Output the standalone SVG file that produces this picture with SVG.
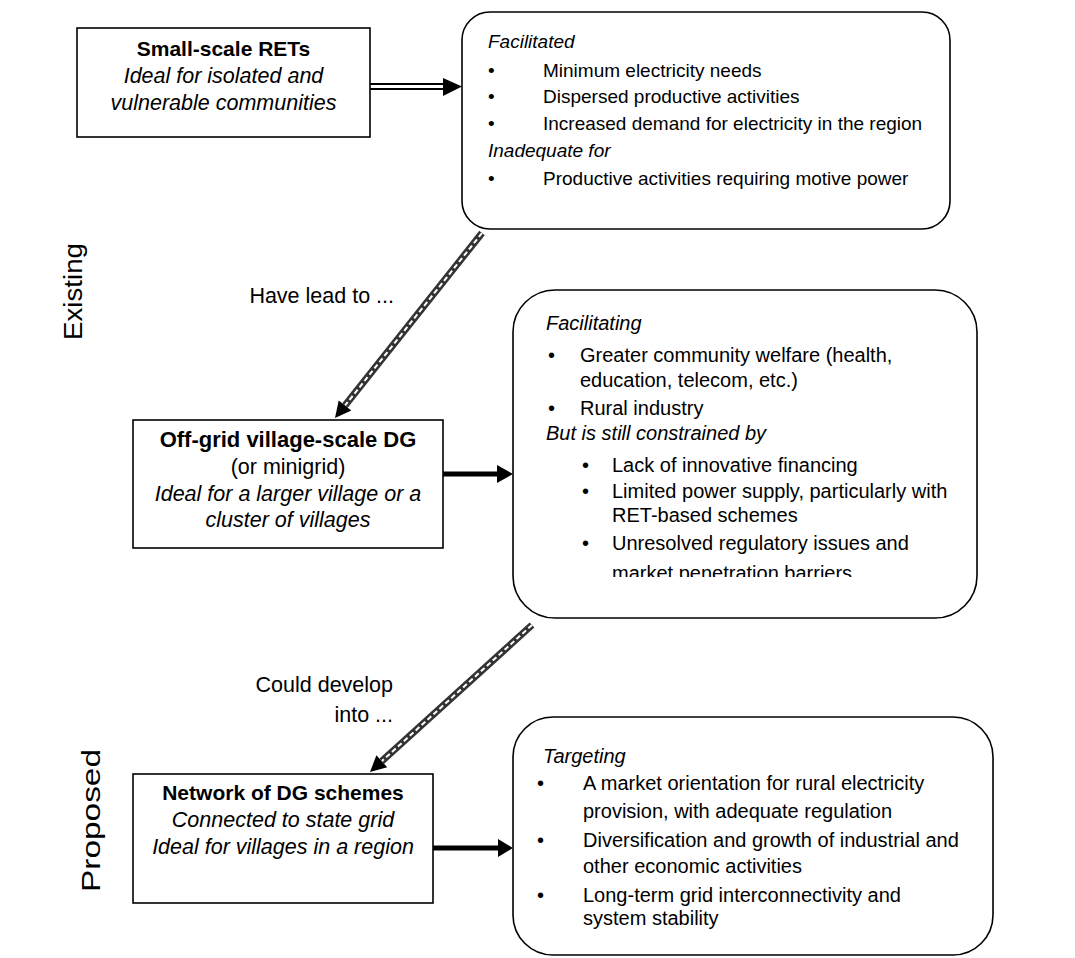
<svg xmlns="http://www.w3.org/2000/svg" width="1075" height="958" viewBox="0 0 1075 958">
<style>
text{font-family:"Liberation Sans",Arial,sans-serif;fill:#000}
.box{fill:#fff;stroke:#000;stroke-width:1.6}
.rbox{fill:#fff;stroke:#000;stroke-width:1.6}
.b{font-weight:bold;font-size:21px}
.l{font-size:21.5px}
.i{font-style:italic}
.r{font-size:19px}
.r2{font-size:20px}
.side{font-size:25px}
.braid{fill:none;stroke:#333;stroke-width:7}
.braidw{fill:none;stroke:#fff;stroke-width:2;stroke-dasharray:5 3}
.thick{stroke:#000;stroke-width:5}
.dbl{stroke:#000;stroke-width:2}
.head{fill:#000}
</style>

<g id="labels">
<text class="side" transform="translate(82,340) rotate(-90)" textLength="97" lengthAdjust="spacingAndGlyphs">Existing</text>
<text class="side" transform="translate(100,892) rotate(-90)" textLength="143" lengthAdjust="spacingAndGlyphs">Proposed</text>
<text class="l" x="394" y="303" text-anchor="end">Have lead to ...</text>
<text class="l" x="393" y="692" text-anchor="end">Could develop</text>
<text class="l" x="393" y="722" text-anchor="end">into ...</text>
</g>

<g id="connectors">
<line class="dbl" x1="370" y1="84" x2="446" y2="84"/>
<line class="dbl" x1="370" y1="89" x2="446" y2="89"/>
<polygon class="head" points="443,78 462,86.5 443,96"/>
<line class="thick" x1="443" y1="474" x2="500" y2="474"/>
<polygon class="head" points="497,465 513,474 497,483"/>
<line class="thick" x1="433" y1="848" x2="500" y2="848"/>
<polygon class="head" points="498,839 513,848 498,857"/>
<line class="braid" x1="482" y1="233" x2="345" y2="405.5"/>
<line class="braidw" x1="482" y1="233" x2="345" y2="405.5"/>
<polygon class="head" points="351.3,410.5 338.7,400.5 335,418"/>
<line class="braid" x1="532" y1="625" x2="381.8" y2="761.2"/>
<line class="braidw" x1="532" y1="625" x2="381.8" y2="761.2"/>
<polygon class="head" points="387.2,767.2 376.4,755.3 370,772"/>
</g>

<g id="small-scale-rets">
<rect class="box" x="77" y="28" width="293" height="109"/>
<text class="b" x="223.5" y="56" text-anchor="middle">Small-scale RETs</text>
<text class="l i" x="223.5" y="83" text-anchor="middle">Ideal for isolated and</text>
<text class="l i" x="223.5" y="110" text-anchor="middle">vulnerable communities</text>
</g>

<g id="facilitated">
<rect class="rbox" x="462" y="12" width="488" height="217" rx="28" ry="28"/>
<text class="r i" x="488" y="48">Facilitated</text>
<text class="r" x="488" y="77">•</text>
<text class="r" x="543" y="77">Minimum electricity needs</text>
<text class="r" x="488" y="103">•</text>
<text class="r" x="543" y="103">Dispersed productive activities</text>
<text class="r" x="488" y="130">•</text>
<text class="r" x="543" y="130">Increased demand for electricity in the region</text>
<text class="r i" x="488" y="157">Inadequate for</text>
<text class="r" x="488" y="185">•</text>
<text class="r" x="543" y="185">Productive activities requiring motive power</text>
</g>

<g id="off-grid">
<rect class="box" x="133" y="420" width="310" height="128"/>
<text class="b" x="288" y="447" text-anchor="middle" style="font-size:22px">Off-grid village-scale DG</text>
<text class="l" x="288" y="474" text-anchor="middle">(or minigrid)</text>
<text class="l i" x="288" y="501" text-anchor="middle">Ideal for a larger village or a</text>
<text class="l i" x="288" y="527" text-anchor="middle">cluster of villages</text>
</g>

<g id="facilitating">
<clipPath id="clip3"><rect x="513" y="290" width="464" height="287"/></clipPath>
<rect class="rbox" x="513" y="290" width="464" height="328" rx="42" ry="42"/>
<text class="r2 i" x="546" y="330">Facilitating</text>
<text class="r2" x="548" y="362">•</text>
<text class="r2" x="580" y="362">Greater community welfare (health,</text>
<text class="r2" x="580" y="387">education, telecom, etc.)</text>
<text class="r2" x="548" y="415">•</text>
<text class="r2" x="580" y="415">Rural industry</text>
<text class="r2 i" x="546" y="440">But is still constrained by</text>
<text class="r2" x="582" y="472">•</text>
<text class="r2" x="612" y="472">Lack of innovative financing</text>
<text class="r2" x="582" y="498">•</text>
<text class="r2" x="612" y="498">Limited power supply, particularly with</text>
<text class="r2" x="612" y="522">RET-based schemes</text>
<text class="r2" x="582" y="550">•</text>
<text class="r2" x="612" y="550">Unresolved regulatory issues and</text>
<text class="r2" x="612" y="580" clip-path="url(#clip3)">market penetration barriers</text>
</g>

<g id="network">
<rect class="box" x="133" y="774" width="300" height="129"/>
<text class="b" x="283" y="800" text-anchor="middle">Network of DG schemes</text>
<text class="l i" x="283" y="827" text-anchor="middle">Connected to state grid</text>
<text class="l i" x="283" y="854" text-anchor="middle">Ideal for villages in a region</text>
</g>

<g id="targeting">
<rect class="rbox" x="513" y="717" width="480" height="238" rx="40" ry="40"/>
<text class="r2 i" x="543" y="763">Targeting</text>
<text class="r2" x="537" y="790">•</text>
<text class="r2" x="583" y="790">A market orientation for rural electricity</text>
<text class="r2" x="583" y="818">provision, with adequate regulation</text>
<text class="r2" x="537" y="847">•</text>
<text class="r2" x="583" y="847">Diversification and growth of industrial and</text>
<text class="r2" x="583" y="873">other economic activities</text>
<text class="r2" x="537" y="902">•</text>
<text class="r2" x="583" y="902">Long-term grid interconnectivity and</text>
<text class="r2" x="583" y="925">system stability</text>
</g>
</svg>
